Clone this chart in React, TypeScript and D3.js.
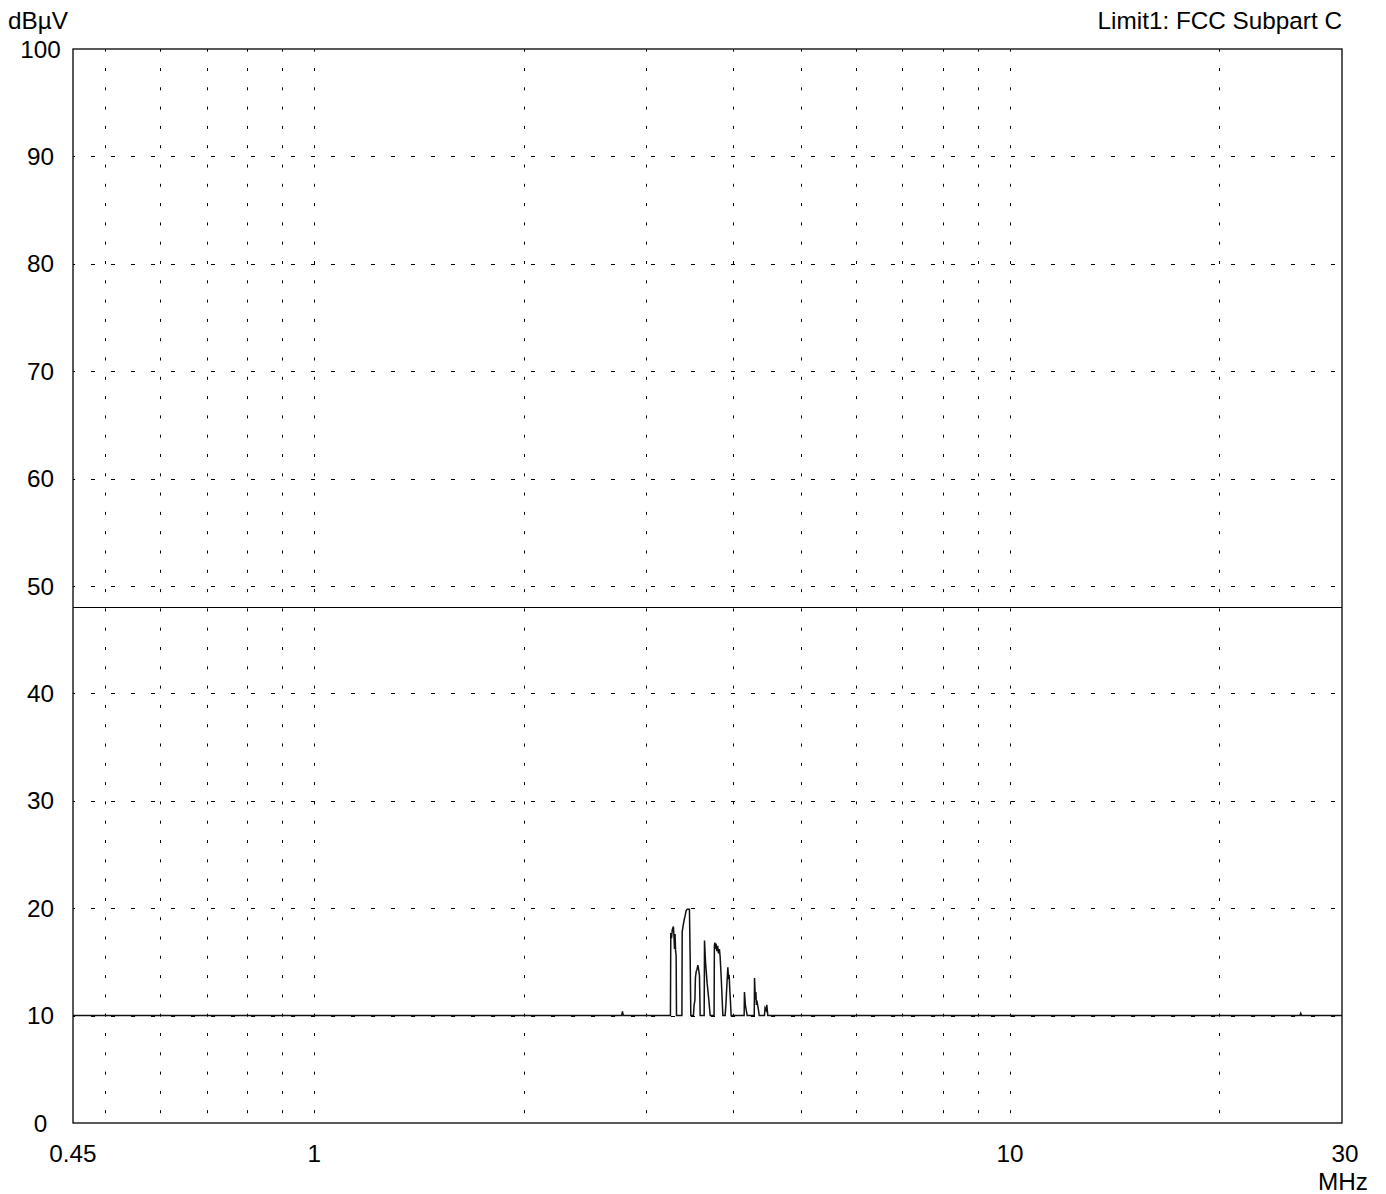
import React from "react";
import * as d3 from "d3";

const W = 1386;
const H = 1194;

// axis ticks
const yTicks = [0, 10, 20, 30, 40, 50, 60, 70, 80, 90, 100];
const xGrid = [0.5, 0.6, 0.7, 0.8, 0.9, 1, 2, 3, 4, 5, 6, 7, 8, 9, 10, 20];
const xLabels = [
  { v: 0.45, t: "0.45" },
  { v: 1, t: "1" },
  { v: 10, t: "10" },
];

// Limit line (FCC Subpart C)
const limitFreq = [0.45, 30];
const limitLevel = [48, 48];

// Measured trace: frequency (MHz) and level (dBµV)
const traceFreq = [
  0.45, 2.7, 2.765, 2.773, 2.781, 3.25, 3.254, 3.262, 3.27, 3.282, 3.288, 3.294,
  3.3, 3.306, 3.312, 3.316, 3.376, 3.379, 3.39, 3.401, 3.412, 3.424, 3.437,
  3.45, 3.461, 3.47, 3.477, 3.507, 3.515, 3.524, 3.53, 3.539, 3.549, 3.559,
  3.57, 3.578, 3.586, 3.634, 3.638, 3.65, 3.67, 3.69, 3.707, 3.755, 3.759,
  3.765, 3.772, 3.78, 3.79, 3.8, 3.81, 3.822, 3.831, 3.845, 3.866, 3.895,
  3.905, 3.915, 3.93, 3.94, 3.947, 3.955, 3.965, 3.973, 4.148, 4.152, 4.165,
  4.172, 4.19, 4.289, 4.293, 4.305, 4.312, 4.32, 4.331, 4.35, 4.36, 4.436,
  4.445, 4.46, 4.471, 4.486, 26.1, 26.17, 26.24, 30,
];
const traceLevel = [
  10, 10, 10, 10.4, 10, 10, 17.7, 17.2, 18.0, 18.3, 17.5, 16.2,
  17.6, 16.0, 15.6, 10, 10, 17.8, 18.4, 18.9, 19.3, 19.8, 19.9,
  19.9, 19.9, 15.0, 10, 10, 11.0, 11.4, 13.5, 14.1, 14.3, 14.7,
  14.2, 13.7, 10, 10, 17.0, 15.0, 13.0, 11.5, 10, 10, 16.5,
  16.8, 16.2, 16.7, 16.0, 16.5, 15.8, 16.2, 15.5, 13.5, 10, 10,
  11.0, 12.5, 14.5, 13.4, 13.8, 12.5, 11.2, 10, 10, 12.2, 11.0,
  10.7, 10, 10, 13.5, 11.5, 12.2, 11.0, 11.2, 10.5, 10, 10,
  10.7, 10.5, 11.0, 10, 10, 10.2, 10, 10,
];

const L = 73;
const R = 1342;
const T = 49;
const B = 1123;

export default function App() {
  const x = d3.scaleLog().domain([0.45, 30]).range([L, R]);
  const y = d3.scaleLinear().domain([0, 100]).range([B, T]);

  const line = d3
    .line<[number, number]>()
    .x((d) => x(d[0]))
    .y((d) => y(d[1]));

  const trace = traceFreq.map((f, i) => [f, traceLevel[i]] as [number, number]);
  const limit = limitFreq.map((f, i) => [f, limitLevel[i]] as [number, number]);

  const font = "'Liberation Sans', Arial, sans-serif";
  const fs = 24.3;

  return (
    <svg
      width={W}
      height={H}
      style={{ position: "absolute", left: 0, top: 0, background: "#fff" }}
      fontFamily={font}
    >
      <rect x={0} y={0} width={W} height={H} fill="#fff" />
      {/* horizontal grid */}
      {yTicks
        .filter((v) => v > 0 && v < 100)
        .map((v) => (
          <line
            key={"h" + v}
            x1={L}
            x2={R}
            y1={Math.round(y(v)) + 0.5}
            y2={Math.round(y(v)) + 0.5}
            stroke="#000"
            strokeWidth={1}
            strokeDasharray="4,16"
            strokeDashoffset={-18}
          />
        ))}
      {/* vertical grid */}
      {xGrid.map((v) => (
        <line
          key={"v" + v}
          x1={Math.round(x(v)) + 0.5}
          x2={Math.round(x(v)) + 0.5}
          y1={T}
          y2={B}
          stroke="#000"
          strokeWidth={1}
          strokeDasharray="3,16.3"
          strokeDashoffset={-19}
        />
      ))}
      {/* limit line */}
      <path d={line(limit) || ""} fill="none" stroke="#000" strokeWidth={1.2} />
      {/* trace */}
      <path
        d={line(trace) || ""}
        fill="none"
        stroke="#111"
        strokeWidth={1.5}
        strokeLinejoin="miter"
      />
      {/* frame */}
      <rect x={L} y={T} width={R - L} height={B - T} fill="none" stroke="#000" strokeWidth={1.3} />
      {/* y labels */}
      {yTicks.map((v) => (
        <text
          key={"yl" + v}
          x={40.5}
          y={y(v) + 8.5}
          textAnchor="middle"
          fontSize={fs}
          fill="#000"
        >
          {v}
        </text>
      ))}
      {/* x labels */}
      {xLabels.map((d) => (
        <text
          key={"xl" + d.t}
          x={x(d.v)}
          y={1161.5}
          textAnchor="middle"
          fontSize={fs}
          fill="#000"
        >
          {d.t}
        </text>
      ))}
      <text x={1345} y={1161.5} textAnchor="middle" fontSize={fs} fill="#000">
        30
      </text>
      <text x={1368} y={1190} textAnchor="end" fontSize={fs} fill="#000">
        MHz
      </text>
      <text x={8} y={29} fontSize={fs} fill="#000">
        dBµV
      </text>
      <text x={1342} y={29} textAnchor="end" fontSize={fs} fill="#000">
        Limit1: FCC Subpart C
      </text>
    </svg>
  );
}
